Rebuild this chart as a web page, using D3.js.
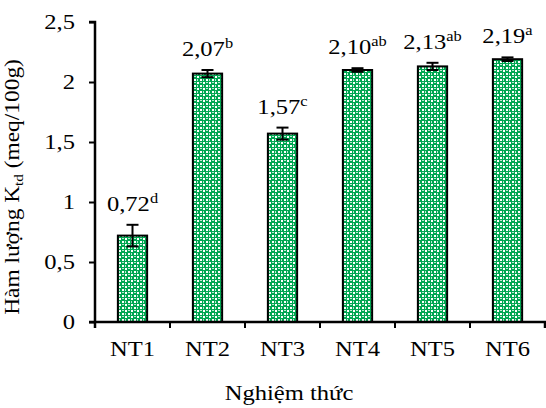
<!DOCTYPE html>
<html>
<head>
<meta charset="utf-8">
<script src="https://cdn.jsdelivr.net/npm/d3@7"></script>
<style>
  body { margin: 0; background: #fff; }
  svg text { font-family: "Liberation Serif", "DejaVu Serif", serif; fill: #000; }
</style>
</head>
<body>
<div id="chart"></div>
<script>
// Data
const treatments = ["NT1", "NT2", "NT3", "NT4", "NT5", "NT6"];
const values = [0.72, 2.07, 1.57, 2.10, 2.13, 2.19];
const errors = [0.09, 0.03, 0.05, 0.015, 0.03, 0.015];
const letters = ["d", "b", "c", "ab", "ab", "a"];
const yTicks = [0, 0.5, 1, 1.5, 2, 2.5];

const W = 546, H = 408;
const serif = "'Liberation Serif', 'DejaVu Serif', serif";
const sx = 1.17; // text in the original is a bit wider than Liberation Serif
const margin = { top: 22, right: 1, bottom: 86, left: 95 };
const width = W - margin.left - margin.right,
    height = H - margin.top - margin.bottom;

const svg = d3.select("#chart").append("svg")
    .attr("width", W).attr("height", H)
    .attr("font-family", serif);

// bar fill pattern (green with white checks)
const defs = svg.append("defs");
const pat = defs.append("pattern")
    .attr("id", "check")
    .attr("patternUnits", "userSpaceOnUse")
    .attr("width", 6).attr("height", 6);
pat.append("rect").attr("width", 6).attr("height", 6).attr("fill", "#00a651");
[[0, 0, 2, 2, "#ffffff"], [3, 3, 2, 2, "#ffffff"],
 [3, 0, 2, 1, "#b8ead0"], [0, 3, 1, 2, "#b8ead0"]].forEach(([px, py, pw, ph, c]) => {
    pat.append("rect").attr("x", px).attr("y", py).attr("width", pw).attr("height", ph).attr("fill", c);
});

const g = svg.append("g")
    .attr("transform", `translate(${margin.left},${margin.top})`);

const x = d3.scaleBand().domain(treatments).range([0, width]).paddingInner(0.61).paddingOuter(0.305);
const y = d3.scaleLinear().domain([0, 2.5]).range([height, 0]);

// bars
g.selectAll(".bar")
    .data(values)
    .enter().append("rect")
    .attr("x", (d, i) => x(treatments[i]))
    .attr("y", d => y(d))
    .attr("width", x.bandwidth())
    .attr("height", d => height - y(d))
    .attr("fill", "url(#check)")
    .attr("stroke", "#000")
    .attr("stroke-width", 2);

// error bars
const eb = g.selectAll(".err")
    .data(values)
    .enter().append("g")
    .attr("transform", (d, i) => `translate(${x(treatments[i]) + x.bandwidth() / 2},0)`);
eb.append("line")
    .attr("y1", (d, i) => y(d + errors[i]))
    .attr("y2", (d, i) => y(d - errors[i]))
    .attr("stroke", "#000").attr("stroke-width", 2);
[1, -1].forEach(s => {
    eb.append("line")
        .attr("x1", -6).attr("x2", 6)
        .attr("y1", (d, i) => y(d + s * errors[i]))
        .attr("y2", (d, i) => y(d + s * errors[i]))
        .attr("stroke", "#000").attr("stroke-width", 2);
});

// value labels
const fmt = d => d.toFixed(2).replace(".", ",");
const lab = g.selectAll(".lab")
    .data(values)
    .enter().append("text")
    .attr("transform", (d, i) =>
        `translate(${x(treatments[i]) + x.bandwidth() / 2},${y(d + errors[i]) - 14}) scale(${sx},1)`)
    .attr("text-anchor", "middle")
    .attr("font-family", serif)
    .style("font-size", "21px");
lab.append("tspan").text(d => fmt(d));
lab.append("tspan")
    .attr("dy", -8)
    .style("font-size", "14px")
    .text((d, i) => letters[i]);

// axes
const yAxis = g.append("g")
    .call(d3.axisLeft(y).tickValues(yTicks).tickSize(6)
        .tickFormat(d => String(d).replace(".", ",")));
const xAxis = g.append("g")
    .attr("transform", `translate(0,${height})`)
    .call(d3.axisBottom(x).tickSize(0).tickPadding(19));

// tick marks on x at category boundaries
g.selectAll(".xt")
    .data(treatments)
    .enter().append("line")
    .attr("x1", (d, i) => x(d) + x.bandwidth() / 2 + x.step() / 2)
    .attr("x2", (d, i) => x(d) + x.bandwidth() / 2 + x.step() / 2)
    .attr("y1", height).attr("y2", height + 6)
    .attr("stroke", "#000").attr("stroke-width", 2);

[yAxis, xAxis].forEach(a => {
    a.attr("font-family", serif);
    a.select(".domain").attr("stroke", "#000").attr("stroke-width", 2.5);
    a.selectAll(".tick line").attr("stroke", "#000").attr("stroke-width", 2);
    a.selectAll("text").style("font-size", "21px").attr("font-family", serif)
        .attr("transform", `scale(${sx},1)`);
});
yAxis.select(".domain").attr("d", `M-6,0H0V${height + 6}`);
xAxis.select(".domain").attr("d", `M-6,0H${width}V6`);
yAxis.selectAll(".tick text").attr("x", -20 / sx);

// axis titles
svg.append("text")
    .attr("transform", `translate(289,400) scale(${sx},1)`)
    .attr("text-anchor", "middle")
    .attr("font-family", serif)
    .style("font-size", "21px")
    .text("Nghiệm thức");

const yt = svg.append("text")
    .attr("transform", `translate(19,187) rotate(-90) scale(${sx},1)`)
    .attr("text-anchor", "middle")
    .attr("font-family", serif)
    .style("font-size", "20px");
yt.append("tspan").text("Hàm  lượng K");
yt.append("tspan").attr("dy", 4).style("font-size", "13px").text("td");
yt.append("tspan").attr("dy", -4).text(" (meq/100g)");
</script>
</body>
</html>
